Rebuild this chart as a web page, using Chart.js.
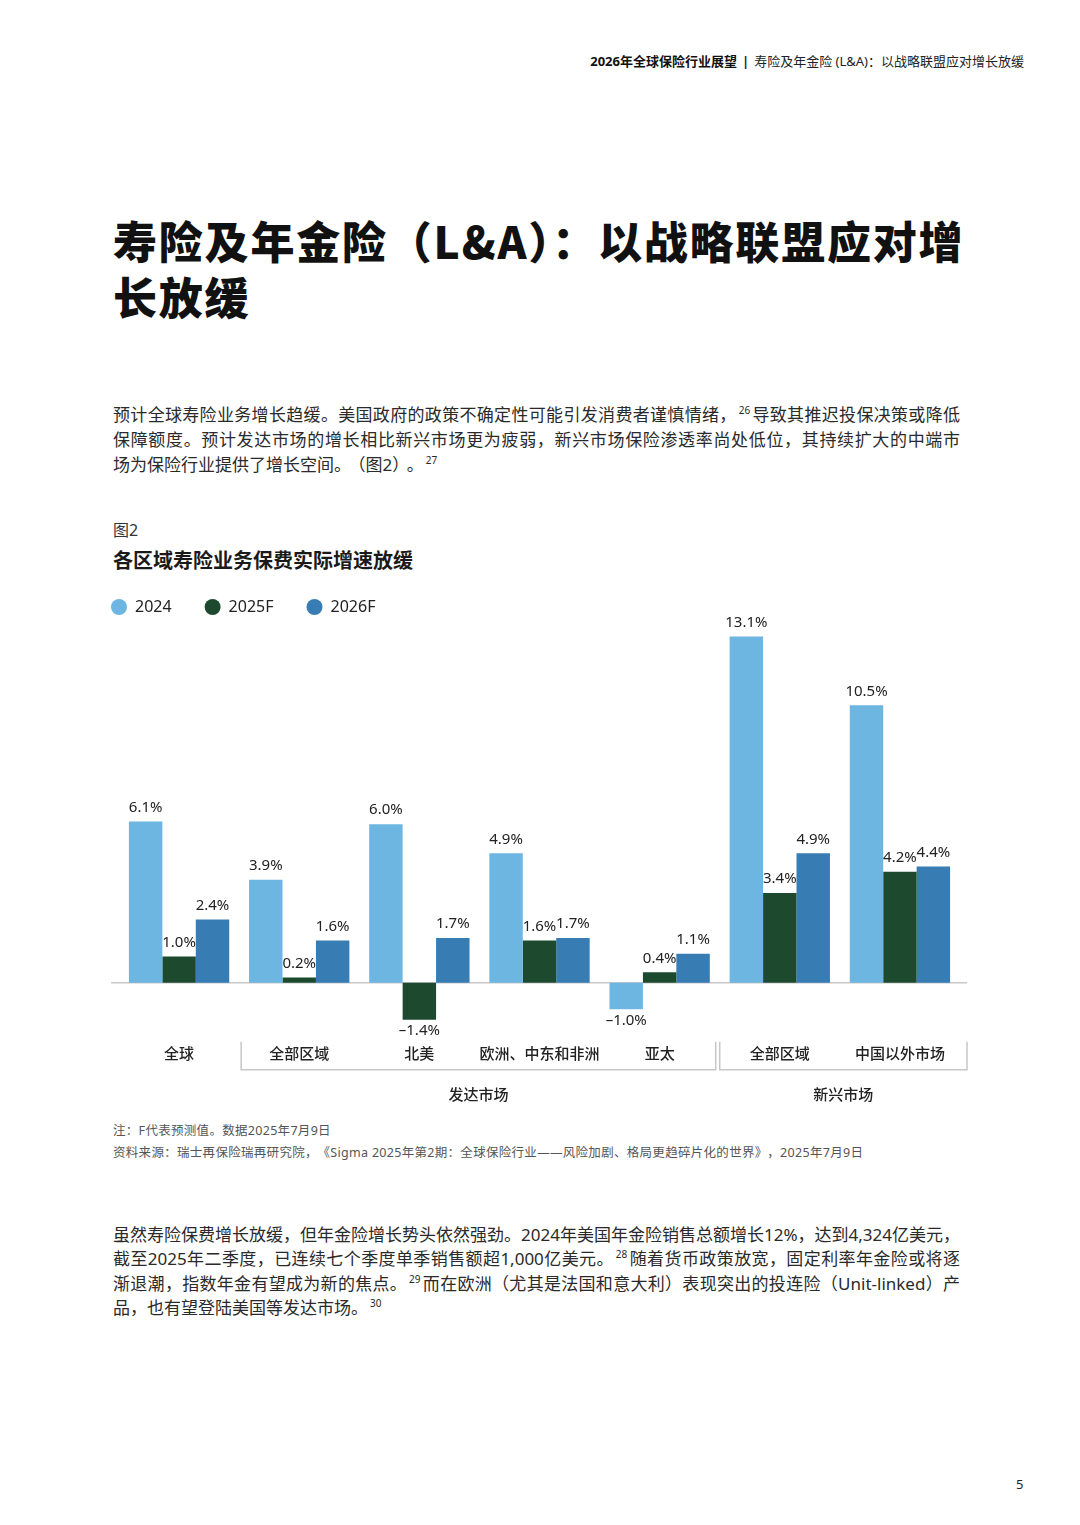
<!DOCTYPE html>
<html lang="zh-CN">
<head>
<meta charset="utf-8">
<title>各区域寿险业务保费实际增速放缓</title>
<script src="https://cdn.jsdelivr.net/npm/chart.js@4.4.1/dist/chart.umd.min.js"></script>
<style>
    html, body {
        margin: 0;
        padding: 0;
        background: #ffffff;
    }
    body {
        position: relative;
        width: 1080px;
        height: 1525px;
        overflow: hidden;
        font-family: 'Noto Sans', 'Noto Sans CJK SC', sans-serif;
        color: #222;
    }
    .abs { position: absolute; }
    .header {
        top: 53px;
        right: 56px;
        font-size: 13px;
        line-height: 16px;
        white-space: nowrap;
        color: #222;
    }
    .header b { font-weight: 700; color: #111; }
    .header .bar { font-weight: 700; margin: 0 5px; }
    .title {
        top: 212px;
        left: 113px;
        font-family: 'Noto Sans CJK SC', sans-serif;
        font-size: 44px;
        line-height: 56px;
        font-weight: 900;
        letter-spacing: 1.8px;
        color: #111;
        white-space: nowrap;
    }
    .para {
        left: 113px;
        width: 847px;
        font-size: 17px;
        color: #2a2a2a;
    }
    .para .ln {
        display: block;
        white-space: nowrap;
        text-align: justify;
        text-align-last: justify;
    }
    .para .ln.last { text-align-last: left; }
    .para sup {
        font-size: 10px;
        line-height: 0;
        vertical-align: 7px;
        margin: 0 2px;
    }
    .gap { margin-left: 6px; }
    #p1 { top: 401.5px; line-height: 25px; }
    #p2 { top: 1222.8px; line-height: 24.5px; }
    .figno {
        top: 520px;
        left: 113px;
        font-size: 16px;
        line-height: 20px;
        color: #333;
    }
    .figtitle {
        top: 548px;
        left: 113px;
        font-size: 20px;
        line-height: 26px;
        font-weight: 700;
        color: #1a1a1a;
    }
    #chartBox {
        position: absolute;
        left: 78px;
        top: 560px;
        width: 900px;
        height: 560px;
    }
    .note {
        left: 113px;
        font-size: 12.5px;
        line-height: 16px;
        letter-spacing: 0.3px;
        color: #555;
        white-space: nowrap;
    }
    .pageno {
        top: 1476px;
        left: 1016px;
        font-size: 13px;
        line-height: 16px;
        color: #222;
    }
</style>
</head>
<body>

<div class="abs header"><b>2026年全球保险行业展望</b><span class="bar">|</span>寿险及年金险 (L&amp;A)：以战略联盟应对增长放缓</div>

<div class="abs title">寿险及年金险（L&amp;A）：以战略联盟应对增<br>长放缓</div>

<div class="abs para" id="p1">
    <span class="ln">预计全球寿险业务增长趋缓。美国政府的政策不确定性可能引发消费者谨慎情绪，<sup>26</sup>导致其推迟投保决策或降低</span>
    <span class="ln">保障额度。预计发达市场的增长相比新兴市场更为疲弱，新兴市场保险渗透率尚处低位，其持续扩大的中端市</span>
    <span class="ln last">场为保险行业提供了增长空间。<span class="gap">（图2）</span><span class="gap">。</span><sup>27</sup></span>
</div>

<div class="abs figno">图2</div>
<div class="abs figtitle">各区域寿险业务保费实际增速放缓</div>

<div id="chartBox"><canvas id="chart"></canvas></div>

<div class="abs note" style="top:1123px">注：F代表预测值。数据2025年7月9日</div>
<div class="abs note" style="top:1145px">资料来源：瑞士再保险瑞再研究院，<span class="gap">《Sigma 2025年第2期：全球保险行业——风险加剧、格局更趋碎片化的世界》</span><span class="gap">，2025年7月9日</span></div>

<div class="abs para" id="p2">
    <span class="ln">虽然寿险保费增长放缓，但年金险增长势头依然强劲。2024年美国年金险销售总额增长12%，达到4,324亿美元，</span>
    <span class="ln">截至2025年二季度，已连续七个季度单季销售额超1,000亿美元。<sup>28</sup>随着货币政策放宽，固定利率年金险或将逐</span>
    <span class="ln">渐退潮，指数年金有望成为新的焦点。<sup>29</sup>而在欧洲（尤其是法国和意大利）表现突出的投连险（Unit-linked）产</span>
    <span class="ln last">品，也有望登陆美国等发达市场。<sup>30</sup></span>
</div>

<div class="abs pageno">5</div>

<script>
// categories along the x axis
const categories = ['全球', '全部区域', '北美', '欧洲、中东和非洲', '亚太', '全部区域', '中国以外市场'];

// real premium growth, %
const seriesNames = ['2024', '2025F', '2026F'];
const growth2024 = [6.1, 3.9, 6.0, 4.9, -1.0, 13.1, 10.5];
const growth2025F = [1.0, 0.2, -1.4, 1.6, 0.4, 3.4, 4.2];
const growth2026F = [2.4, 1.6, 1.7, 1.7, 1.1, 4.9, 4.4];
const seriesColors = ['#6db6e2', '#1d4a2f', '#377db3'];

// market groups under the category labels (index ranges into categories)
const groupNames = ['发达市场', '新兴市场'];
const groupFirst = [1, 5];
const groupLast = [4, 6];

const FONT = "'Noto Sans', 'Noto Sans CJK SC', sans-serif";
Chart.defaults.font.family = FONT;
Chart.defaults.color = '#222';

function fmtPct(v) {
    return (v < 0 ? '–' + Math.abs(v).toFixed(1) : v.toFixed(1)) + '%';
}

// keeps the wide horizontal legend spacing without a tall legend box
const legendHeight = {
    id: 'legendHeight',
    beforeInit(chart) {
        const fit = chart.legend.fit;
        chart.legend.fit = function () {
            fit.call(this);
            this.height = 52;
        };
    }
};

// zero line, a bit wider than the plot like in the source
const zeroLine = {
    id: 'zeroLine',
    beforeDatasetsDraw(chart) {
        const { ctx, chartArea, scales } = chart;
        const y = scales.y.getPixelForValue(0);
        ctx.save();
        ctx.strokeStyle = '#c8c8c8';
        ctx.lineWidth = 1.5;
        ctx.beginPath();
        ctx.moveTo(chartArea.left - 8, y);
        ctx.lineTo(chartArea.right + 7, y);
        ctx.stroke();
        ctx.restore();
    }
};

// value labels above / below each bar
const valueLabels = {
    id: 'valueLabels',
    afterDatasetsDraw(chart) {
        const { ctx } = chart;
        ctx.save();
        ctx.font = '15px ' + FONT;
        ctx.fillStyle = '#222';
        ctx.textAlign = 'center';
        ctx.textBaseline = 'middle';
        chart.data.datasets.forEach((ds, i) => {
            chart.getDatasetMeta(i).data.forEach((bar, j) => {
                const v = ds.data[j];
                const y = v < 0 ? bar.y + 11 : bar.y - 14;
                ctx.fillText(fmtPct(v), bar.x, y);
            });
        });
        ctx.restore();
    }
};

// brackets and names of the market groups
const groupBrackets = {
    id: 'groupBrackets',
    afterDraw(chart) {
        const { ctx, chartArea, scales } = chart;
        const x = scales.x;
        const edge = (i) => (x.getPixelForValue(i) + x.getPixelForValue(i + 1)) / 2;
        const top = chartArea.bottom + 6;
        const bottom = chartArea.bottom + 34;
        ctx.save();
        ctx.strokeStyle = '#c8c8c8';
        ctx.lineWidth = 1.5;
        ctx.font = '500 15px ' + FONT;
        ctx.fillStyle = '#222';
        ctx.textAlign = 'center';
        ctx.textBaseline = 'middle';
        groupNames.forEach((name, g) => {
            const left = edge(groupFirst[g] - 1) + (g === 0 ? 2 : 0);
            const right = groupLast[g] === categories.length - 1
                ? chartArea.right + 7
                : edge(groupLast[g]) - 4;
            ctx.beginPath();
            ctx.moveTo(left, top);
            ctx.lineTo(left, bottom);
            ctx.lineTo(right, bottom);
            ctx.lineTo(right, top);
            ctx.stroke();
            ctx.fillText(name, (left + right) / 2, chartArea.bottom + 60);
        });
        ctx.restore();
    }
};

const chart = new Chart(document.getElementById('chart'), {
    type: 'bar',
    data: {
        labels: categories,
        datasets: [growth2024, growth2025F, growth2026F].map((values, i) => ({
            label: seriesNames[i],
            data: values,
            backgroundColor: seriesColors[i],
            borderWidth: 0,
            categoryPercentage: 0.835,
            barPercentage: 1.0
        }))
    },
    options: {
        responsive: true,
        maintainAspectRatio: false,
        animation: false,
        layout: {
            padding: { top: 6, right: 18, bottom: 46.3, left: 0 }
        },
        plugins: {
            legend: {
                position: 'top',
                align: 'start',
                labels: {
                    usePointStyle: true,
                    pointStyle: 'circle',
                    pointStyleWidth: 16,
                    boxWidth: 16,
                    boxHeight: 11.31,
                    padding: 33,
                    color: '#222',
                    font: { size: 16 }
                }
            },
            tooltip: { enabled: false }
        },
        scales: {
            x: {
                grid: { display: false, drawTicks: false },
                border: { display: false },
                ticks: {
                    padding: 10,
                    color: '#222',
                    font: { size: 15, weight: 500 },
                    maxRotation: 0,
                    autoSkip: false
                }
            },
            y: {
                min: -2,
                max: 13.8,
                grid: { display: false, drawTicks: false },
                border: { display: false },
                ticks: { display: false },
                afterFit(scale) {
                    scale.width = 41;
                }
            }
        }
    },
    plugins: [legendHeight, zeroLine, valueLabels, groupBrackets]
});
</script>
</body>
</html>
